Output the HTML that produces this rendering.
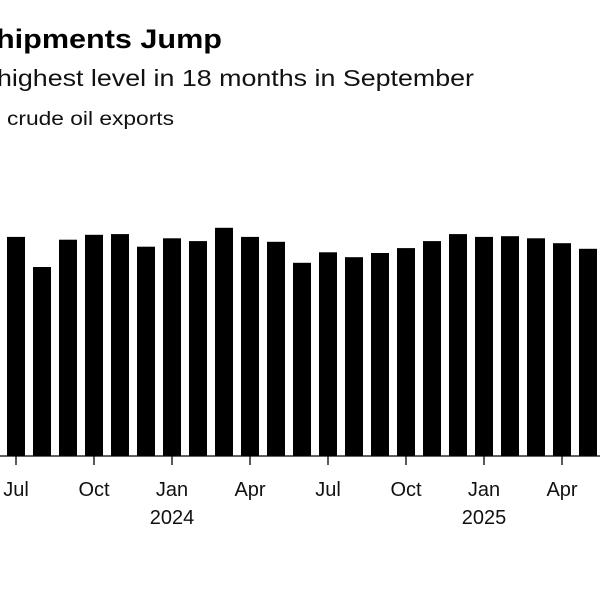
<!DOCTYPE html>
<html><head><meta charset="utf-8"><style>
html,body{margin:0;padding:0;background:#fff;width:600px;height:600px;overflow:hidden}
svg{display:block;font-family:"Liberation Sans",Arial,sans-serif}
</style></head><body>
<svg id="chart" width="600" height="600" viewBox="0 0 600 600">
<text x="-4" y="48" font-size="27" font-weight="bold" fill="#000" textLength="226" lengthAdjust="spacingAndGlyphs">hipments Jump</text>
<text x="-3" y="86" font-size="23" fill="#111" textLength="477" lengthAdjust="spacingAndGlyphs">highest level in 18 months in September</text>
<text x="7" y="125" font-size="19" fill="#111" textLength="167" lengthAdjust="spacingAndGlyphs">crude oil exports</text>
<g id="bars"></g>
<g id="axis"></g>
</svg>
<script>
const months = ["Jul 2023","Aug 2023","Sep 2023","Oct 2023","Nov 2023","Dec 2023","Jan 2024","Feb 2024","Mar 2024","Apr 2024","May 2024","Jun 2024","Jul 2024","Aug 2024","Sep 2024","Oct 2024","Nov 2024","Dec 2024","Jan 2025","Feb 2025","Mar 2025","Apr 2025","May 2025"];
const values = [3.13,2.70,3.09,3.16,3.17,2.99,3.11,3.07,3.26,3.13,3.06,2.76,2.91,2.84,2.90,2.97,3.07,3.17,3.13,3.14,3.11,3.04,2.96];
const tickIndex = [0,3,6,9,12,15,18,21];
const tickLabels = ["Jul","Oct","Jan","Apr","Jul","Oct","Jan","Apr"];
const yearIndex = [6,18];
const yearLabels = ["2024","2025"];

const NS="http://www.w3.org/2000/svg";
const baseY=456, pxPerUnit=70, x0=16, step=26, barW=18;
function xScale(i){return x0+step*i;}
function yScale(v){return baseY-v*pxPerUnit;}
const bars=document.getElementById('bars'), axis=document.getElementById('axis');
values.forEach((v,i)=>{
  const r=document.createElementNS(NS,'rect');
  r.setAttribute('x',xScale(i)-barW/2);
  r.setAttribute('y',yScale(v));
  r.setAttribute('width',barW);
  r.setAttribute('height',baseY-yScale(v));
  r.setAttribute('fill','#000');
  
  
  bars.appendChild(r);
});
const l=document.createElementNS(NS,'line');
l.setAttribute('x1',0);l.setAttribute('x2',600);l.setAttribute('y1',baseY);l.setAttribute('y2',baseY);
l.setAttribute('stroke','#000');l.setAttribute('stroke-width','1.3');


axis.appendChild(l);
tickIndex.forEach((ti,k)=>{
  const x=xScale(ti);
  const t=document.createElementNS(NS,'line');
  t.setAttribute('x1',x);t.setAttribute('x2',x);t.setAttribute('y1',baseY);t.setAttribute('y2',baseY+9);
  t.setAttribute('stroke','#000');t.setAttribute('stroke-width','1.3');
  
  
  axis.appendChild(t);
  const tx=document.createElementNS(NS,'text');
  tx.setAttribute('x',x);tx.setAttribute('y',496);tx.setAttribute('text-anchor','middle');
  tx.setAttribute('font-size','20');tx.setAttribute('fill','#111');
  tx.textContent=tickLabels[k];
  
  
  axis.appendChild(tx);
});
yearIndex.forEach((yi,k)=>{
  const tx=document.createElementNS(NS,'text');
  tx.setAttribute('x',xScale(yi));tx.setAttribute('y',524);tx.setAttribute('text-anchor','middle');
  tx.setAttribute('font-size','20');tx.setAttribute('fill','#111');
  tx.textContent=yearLabels[k];
  
  
  axis.appendChild(tx);
});
</script>
</body></html>
